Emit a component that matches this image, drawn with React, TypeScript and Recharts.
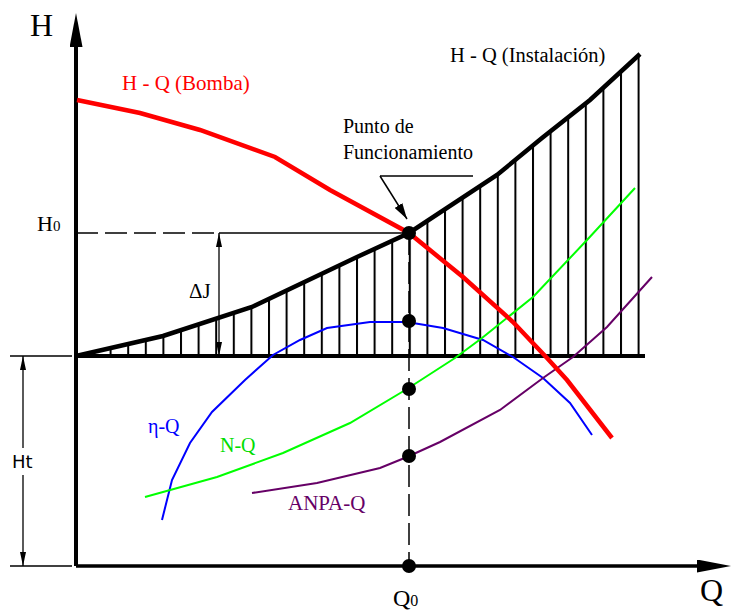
import { ComposedChart, XAxis, YAxis, Line, Area, Scatter, ReferenceLine } from "recharts";

// schematic units: Q along the x axis, H along the y axis
const pumpCurve = [
  { q: 0.2, h: 93.2 }, { q: 12.8, h: 90.6 }, { q: 24.8, h: 87.2 }, { q: 39.8, h: 81.8 },
  { q: 50.8, h: 75.2 }, { q: 66.6, h: 66.6 }, { q: 77.4, h: 57.8 }, { q: 87.4, h: 48.8 },
  { q: 94.2, h: 41.6 }, { q: 98.2, h: 37.2 }, { q: 107.2, h: 25.6 },
];
const systemCurve = [
  { q: 0, h: 42 }, { q: 17.4, h: 46 }, { q: 35.2, h: 51.8 }, { q: 56.2, h: 61.8 },
  { q: 66.6, h: 66.6 }, { q: 84.2, h: 78.2 }, { q: 93.2, h: 85.6 }, { q: 102.8, h: 93.2 },
  { q: 112.8, h: 102.4 },
];
const efficiencyCurve = [
  { q: 17.2, h: 9.2 }, { q: 19.2, h: 17.2 }, { q: 22.8, h: 24.6 }, { q: 27.2, h: 30.8 },
  { q: 33.8, h: 37.2 }, { q: 39.4, h: 42.2 }, { q: 44.8, h: 45.2 }, { q: 50.2, h: 47.6 },
  { q: 58.8, h: 48.8 }, { q: 66.2, h: 48.8 }, { q: 73.4, h: 47.6 }, { q: 81.4, h: 45.2 },
  { q: 87.4, h: 41.8 }, { q: 93.4, h: 37.6 }, { q: 98.8, h: 32.6 }, { q: 103.2, h: 26.2 },
];
const powerCurve = [
  { q: 13.8, h: 13.8 }, { q: 28.2, h: 17.8 }, { q: 41.4, h: 22.6 }, { q: 54.8, h: 28.6 },
  { q: 66.2, h: 35.4 }, { q: 75.8, h: 41.6 }, { q: 81.2, h: 45.6 }, { q: 91.4, h: 53.8 },
  { q: 102.2, h: 65.2 }, { q: 111.8, h: 75.6 },
];
const npshCurve = [
  { q: 35.2, h: 14.6 }, { q: 48.2, h: 16.6 }, { q: 60.8, h: 19.6 }, { q: 66.2, h: 21.8 },
  { q: 72.8, h: 24.8 }, { q: 84.8, h: 31.2 }, { q: 93.4, h: 37.6 }, { q: 99.4, h: 41.8 },
  { q: 106.2, h: 47.8 }, { q: 115.2, h: 57.8 },
];
const operatingDots = [
  { q: 66.6, h: 66.6 }, { q: 66.6, h: 49 }, { q: 66.6, h: 35.4 }, { q: 66.6, h: 22 }, { q: 66.6, h: 0 },
];

const Q0 = 66.6;
const H0 = 66.6;
const HT = 42;

const W = 737;
const HGT = 611;
const SERIF = "'Liberation Serif', 'Times New Roman', serif";

const seg = (x1: number, y1: number, x2: number, y2: number) => [
  { x: x1, y: y1 },
  { x: x2, y: y2 },
];

const lineShape = (width: number, opts: { dash?: string; start?: string; end?: string } = {}) =>
  (p: any) => (
    <line
      x1={p.x1}
      y1={p.y1}
      x2={p.x2}
      y2={p.y2}
      stroke="#000"
      strokeWidth={width}
      strokeDasharray={opts.dash}
      markerStart={opts.start ? `url(#${opts.start})` : undefined}
      markerEnd={opts.end ? `url(#${opts.end})` : undefined}
    />
  );

export default function App() {
  return (
    <div style={{ position: "absolute", left: 0, top: 0, width: W, height: HGT, background: "#fff" }}>
      <svg width={0} height={0} style={{ position: "absolute" }}>
        <defs>
          <pattern id="hatch" patternUnits="userSpaceOnUse" x={92} y={0} width={17.6} height={20}>
            <rect x={0} y={0} width={2} height={20} fill="#000" />
          </pattern>
          <marker id="axisHead" markerUnits="userSpaceOnUse" viewBox="0 0 34 13" markerWidth={34}
            markerHeight={13} refX={0} refY={6.5} orient="auto">
            <path d="M0,0 L34,6.5 L0,13 Z" fill="#000" />
          </marker>
          <marker id="thinHead" markerUnits="userSpaceOnUse" viewBox="0 0 14 6" markerWidth={14}
            markerHeight={6} refX={14} refY={3} orient="auto-start-reverse">
            <path d="M0,0 L14,3 L0,6 Z" fill="#000" />
          </marker>
          <marker id="leaderHead" markerUnits="userSpaceOnUse" viewBox="0 0 16 9" markerWidth={16}
            markerHeight={9} refX={16} refY={4.5} orient="auto">
            <path d="M0,0 L16,4.5 L0,9 Z" fill="#000" />
          </marker>
        </defs>
      </svg>
      <ComposedChart width={W} height={HGT} margin={{ top: 0, right: 0, bottom: 0, left: 0 }}>
        <XAxis type="number" dataKey="q" domain={[-15.2, 132.2]} hide allowDataOverflow />
        <YAxis type="number" dataKey="h" domain={[-9, 113.2]} hide allowDataOverflow />

        <Area data={systemCurve} dataKey="h" type="linear" baseValue={HT} fill="url(#hatch)"
          fillOpacity={1} stroke="#000" strokeWidth={4.5} isAnimationActive={false} dot={false}
          activeDot={false} />

        {/* reference levels */}
        <ReferenceLine segment={seg(0, HT, 113.8, HT)} shape={lineShape(4)} />
        <ReferenceLine segment={seg(0, H0, 28.6, H0)} shape={lineShape(1.5, { dash: "22 7" })} />
        <ReferenceLine segment={seg(28.6, H0, Q0, H0)} shape={lineShape(1.5)} />
        <ReferenceLine segment={seg(Q0, H0, Q0, 0)} shape={lineShape(1.5, { dash: "22 7" })} />
        <ReferenceLine segment={seg(28.6, H0, 28.6, HT)}
          shape={lineShape(1.3, { start: "thinHead", end: "thinHead" })} />

        {/* Ht dimension */}
        <ReferenceLine segment={seg(-13.2, HT, -0.8, HT)} shape={lineShape(1.5)} />
        <ReferenceLine segment={seg(-13.2, 0, -0.8, 0)} shape={lineShape(1.5)} />
        <ReferenceLine segment={seg(-10.6, 23.6, -10.6, HT)} shape={lineShape(1.3, { end: "thinHead" })} />
        <ReferenceLine segment={seg(-10.6, 18.2, -10.6, 0)} shape={lineShape(1.3, { end: "thinHead" })} />

        {/* axes */}
        <ReferenceLine segment={seg(0, 0, 0, 103.8)} shape={lineShape(4, { end: "axisHead" })} />
        <ReferenceLine segment={seg(0, 0, 124.2, 0)} shape={lineShape(3.5, { end: "axisHead" })} />

        {/* leader to operating point */}
        <ReferenceLine segment={seg(60.8, 78, 79.4, 78)} shape={lineShape(1.5)} />
        <ReferenceLine segment={seg(60.8, 78, 66.2, 69.4)} shape={lineShape(1.5, { end: "leaderHead" })} />

        <Line data={efficiencyCurve} dataKey="h" type="linear" stroke="#0000ff" strokeWidth={2}
          dot={false} activeDot={false} isAnimationActive={false} />
        <Line data={powerCurve} dataKey="h" type="linear" stroke="#00ff00" strokeWidth={2}
          dot={false} activeDot={false} isAnimationActive={false} />
        <Line data={npshCurve} dataKey="h" type="linear" stroke="#660066" strokeWidth={2}
          dot={false} activeDot={false} isAnimationActive={false} />
        <Line data={pumpCurve} dataKey="h" type="linear" stroke="#ff0000" strokeWidth={4.5}
          dot={false} activeDot={false} isAnimationActive={false} />

        <Scatter data={operatingDots} dataKey="h" isAnimationActive={false}
          shape={(p: any) => <circle cx={p.cx} cy={p.cy} r={7} fill="#000" />} />

        <g fontFamily={SERIF} fill="#000">
          <text x={30} y={36} fontSize={32}>H</text>
          <text x={700} y={601} fontSize={32}>Q</text>
          <text x={37} y={231} fontSize={22}>H<tspan fontSize={15}>0</tspan></text>
          <text x={393} y={606} fontSize={24}>Q<tspan fontSize={16}>0</tspan></text>
          <text x={122} y={90} fontSize={21} fill="#ff0000">H - Q (Bomba)</text>
          <text x={450} y={62} fontSize={20.5}>H - Q (Instalación)</text>
          <text x={343} y={133} fontSize={20}>Punto de</text>
          <text x={343} y={159} fontSize={20}>Funcionamiento</text>
          <text x={189} y={298} fontSize={21}>ΔJ</text>
          <text x={148} y={433} fontSize={20} fill="#0000ff">η-Q</text>
          <text x={220} y={452} fontSize={20} fill="#00dd00">N-Q</text>
          <text x={288} y={510} fontSize={21} fill="#660066">ANPA-Q</text>
        </g>
        <text x={12} y={468} fontSize={18} fontFamily="'DejaVu Sans', sans-serif" fill="#000">Ht</text>
      </ComposedChart>
    </div>
  );
}
